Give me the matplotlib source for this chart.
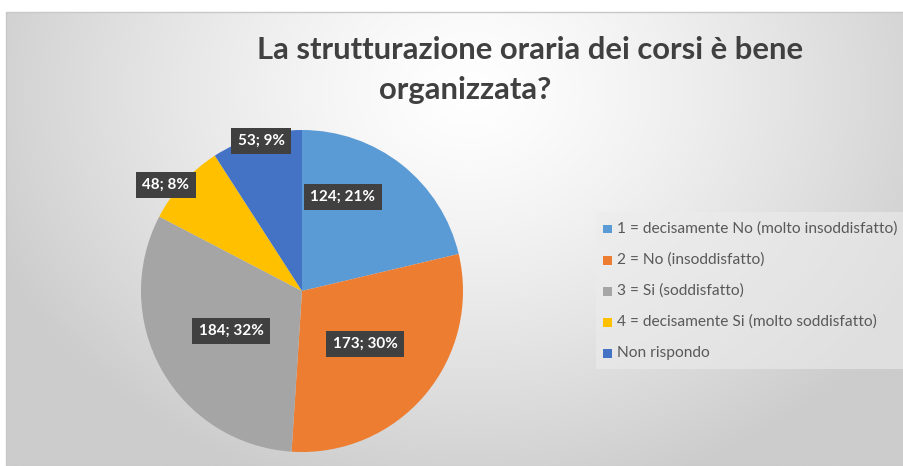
import numpy as np
import matplotlib
matplotlib.use("Agg")
import matplotlib.pyplot as plt
from matplotlib.patches import Rectangle

categories = [
    "1 = decisamente No (molto insoddisfatto)",
    "2 = No (insoddisfatto)",
    "3 = Si (soddisfatto)",
    "4 = decisamente Si (molto soddisfatto)",
    "Non rispondo",
]
values = [124, 173, 184, 48, 53]
colors = ["#5B9BD5", "#ED7D31", "#A5A5A5", "#FFC000", "#4472C4"]
title_line1 = "La strutturazione oraria dei corsi è bene"
title_line2 = "organizzata?"

# label centre positions in figure pixels (from top-left)
label_px = [(343, 197), (365, 344), (231, 331), (166, 185), (261, 141)]

W, H = 904, 466
fig = plt.figure(figsize=(W / 100, H / 100), dpi=100)
fig.patch.set_facecolor("white")

# background gradient for the chart area
bg = fig.add_axes([6 / W, 0, (W - 6) / W, (H - 12) / H])
bg.set_axis_off()
ny, nx = 200, 400
yy, xx = np.mgrid[0:ny, 0:nx]
px = 6 + xx / (nx - 1) * (W - 6)
py = 12 + yy / (ny - 1) * (H - 12)
d = np.sqrt(((px - 470) / 520) ** 2 + ((py - 90) / 420) ** 2)
d = np.clip(d, 0, 1)
g = 1.0 - 0.20 * d ** 1.3
img = np.dstack([g, g, g])
bg.imshow(img, aspect="auto", extent=[0, 1, 0, 1], origin="upper")
bg.set_xlim(0, 1)
bg.set_ylim(0, 1)
fig.patches.append(Rectangle((6 / W, 0), (W - 6) / W, (H - 12) / H,
                             transform=fig.transFigure, fill=False,
                             edgecolor="#c8c8c8", lw=1, zorder=1))

# pie
cx, cy, r = 302, 291, 161
ax = fig.add_axes([(cx - r) / W, (H - cy - r) / H, 2 * r / W, 2 * r / H])
ax.set_zorder(2)
wedges, _ = ax.pie(values, colors=colors, startangle=90, counterclock=False,
                   radius=1.0, wedgeprops=dict(linewidth=0))
ax.set_xlim(-1, 1)
ax.set_ylim(-1, 1)
ax.set_aspect("equal")

total = sum(values)
for v, (lx, ly) in zip(values, label_px):
    txt = f"{v}; {round(v / total * 100)}%"
    ax.text((lx - cx) / r, (cy - ly) / r, txt, ha="center", va="center",
            color="white", fontsize=11, fontweight="bold", family="Lato",
            bbox=dict(boxstyle="square,pad=0.42", facecolor="#404040",
                      edgecolor="none"), zorder=5)

# title
fig.text(530 / W, 1 - 50 / H, title_line1, ha="center", va="center",
         fontsize=22.3, fontweight="bold", color="#404040", family="Lato")
fig.text(465 / W, 1 - 90 / H, title_line2, ha="center", va="center",
         fontsize=22.3, fontweight="bold", color="#404040", family="Lato")

# legend
fig.patches.append(Rectangle((596 / W, 1 - 369 / H), (W - 596) / W, 157 / H,
                             transform=fig.transFigure, facecolor="#ececec",
                             edgecolor="none", alpha=0.6, zorder=1))
rows_y = [229, 260, 291, 322, 353]
for cat, col, ry in zip(categories, colors, rows_y):
    fig.patches.append(Rectangle((603 / W, 1 - (ry + 4.5) / H), 9 / W, 9 / H,
                                 transform=fig.transFigure, facecolor=col,
                                 edgecolor="none", zorder=3))
    fig.text(617 / W, 1 - ry / H, cat, ha="left", va="center",
             fontsize=11.2, color="#595959", family="Lato", zorder=3)

fig.savefig("out.png", dpi=100)
